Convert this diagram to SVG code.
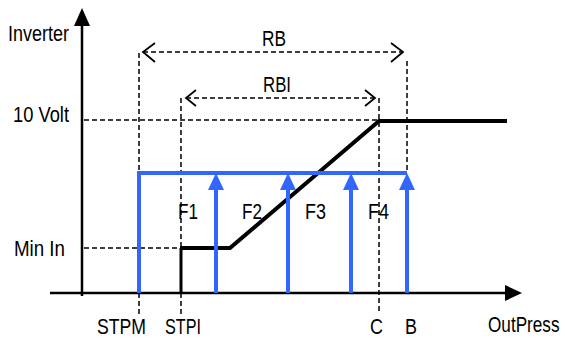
<svg xmlns="http://www.w3.org/2000/svg" width="565" height="340" viewBox="0 0 565 340">
<style>
text{font-family:"Liberation Sans",Arial,sans-serif;font-size:22px;fill:#000}
.d{stroke:#000;stroke-width:1.5;stroke-dasharray:5 3;fill:none}
.ax{stroke:#000;stroke-width:2.5;fill:none}
.k{stroke:#000;stroke-width:4;fill:none}
.b{stroke:#3366ff;stroke-width:4;fill:none}
.ch{stroke:#000;stroke-width:1.8;fill:none}
.bh{fill:#3366ff}
</style>
<rect width="565" height="340" fill="#fff"/>
<g id="axes">
<line class="ax" x1="82" y1="22" x2="82" y2="296"/>
<polygon points="82,8 74,26 90,26" fill="#000"/>
<line class="ax" x1="50" y1="293" x2="508" y2="293"/>
<polygon points="522,293 505,285 505,301" fill="#000"/>
</g>
<g id="connectors">
<line class="d" x1="84" y1="120" x2="379" y2="120"/>
<line class="d" x1="84" y1="248" x2="181" y2="248"/>
<line class="d" x1="139" y1="53" x2="139" y2="173"/>
<line class="d" x1="139" y1="293" x2="139" y2="314"/>
<line class="d" x1="181" y1="98" x2="181" y2="248"/>
<line class="d" x1="181" y1="293" x2="181" y2="314"/>
<line class="d" x1="379" y1="98" x2="379" y2="314"/>
<line class="d" x1="407" y1="61" x2="407" y2="173"/>
<line class="d" x1="143" y1="52" x2="403" y2="52"/>
<polyline class="ch" points="155,43 143,52 155,62"/>
<polyline class="ch" points="391,43 403,52 391,62"/>
<line class="d" x1="186" y1="98" x2="375" y2="98"/>
<polyline class="ch" points="196,90 186,98 196,106"/>
<polyline class="ch" points="365,90 375,98 365,106"/>
</g>
<g id="curve">
<line stroke="#000" stroke-width="3" x1="181" y1="293" x2="181" y2="248"/>
<polyline class="k" points="180,248 230,248 379,121 507,121"/>
</g>
<g id="blue">
<polyline class="b" stroke-width="3" points="139,293 139,173 407,173"/>
<line class="b" x1="216" y1="293" x2="216" y2="188"/>
<polygon class="bh" points="216,173 208,190 224,190"/>
<line class="b" x1="288" y1="293" x2="288" y2="188"/>
<polygon class="bh" points="288,173 280,190 296,190"/>
<line class="b" x1="351" y1="293" x2="351" y2="188"/>
<polygon class="bh" points="351,173 343,190 359,190"/>
<line class="b" x1="407" y1="293" x2="407" y2="188"/>
<polygon class="bh" points="407,173 399,190 415,190"/>
</g>
<g id="labels">
<text x="8" y="41" textLength="61" lengthAdjust="spacingAndGlyphs">Inverter</text>
<text x="13" y="122" textLength="56" lengthAdjust="spacingAndGlyphs">10 Volt</text>
<text x="14" y="256" textLength="51" lengthAdjust="spacingAndGlyphs">Min In</text>
<text x="262" y="46" textLength="24" lengthAdjust="spacingAndGlyphs">RB</text>
<text x="263" y="92" textLength="28" lengthAdjust="spacingAndGlyphs">RBI</text>
<text x="178" y="219" textLength="20" lengthAdjust="spacingAndGlyphs">F1</text>
<text x="242" y="219" textLength="20" lengthAdjust="spacingAndGlyphs">F2</text>
<text x="305" y="219" textLength="21" lengthAdjust="spacingAndGlyphs">F3</text>
<text x="368" y="219" textLength="21" lengthAdjust="spacingAndGlyphs">F4</text>
<text x="97" y="334" textLength="49" lengthAdjust="spacingAndGlyphs">STPM</text>
<text x="165" y="334" textLength="36" lengthAdjust="spacingAndGlyphs">STPI</text>
<text x="370" y="334" textLength="13" lengthAdjust="spacingAndGlyphs">C</text>
<text x="405" y="334" textLength="12" lengthAdjust="spacingAndGlyphs">B</text>
<text transform="translate(488,332) scale(0.78,1)">OutPress</text>
</g>
</svg>
